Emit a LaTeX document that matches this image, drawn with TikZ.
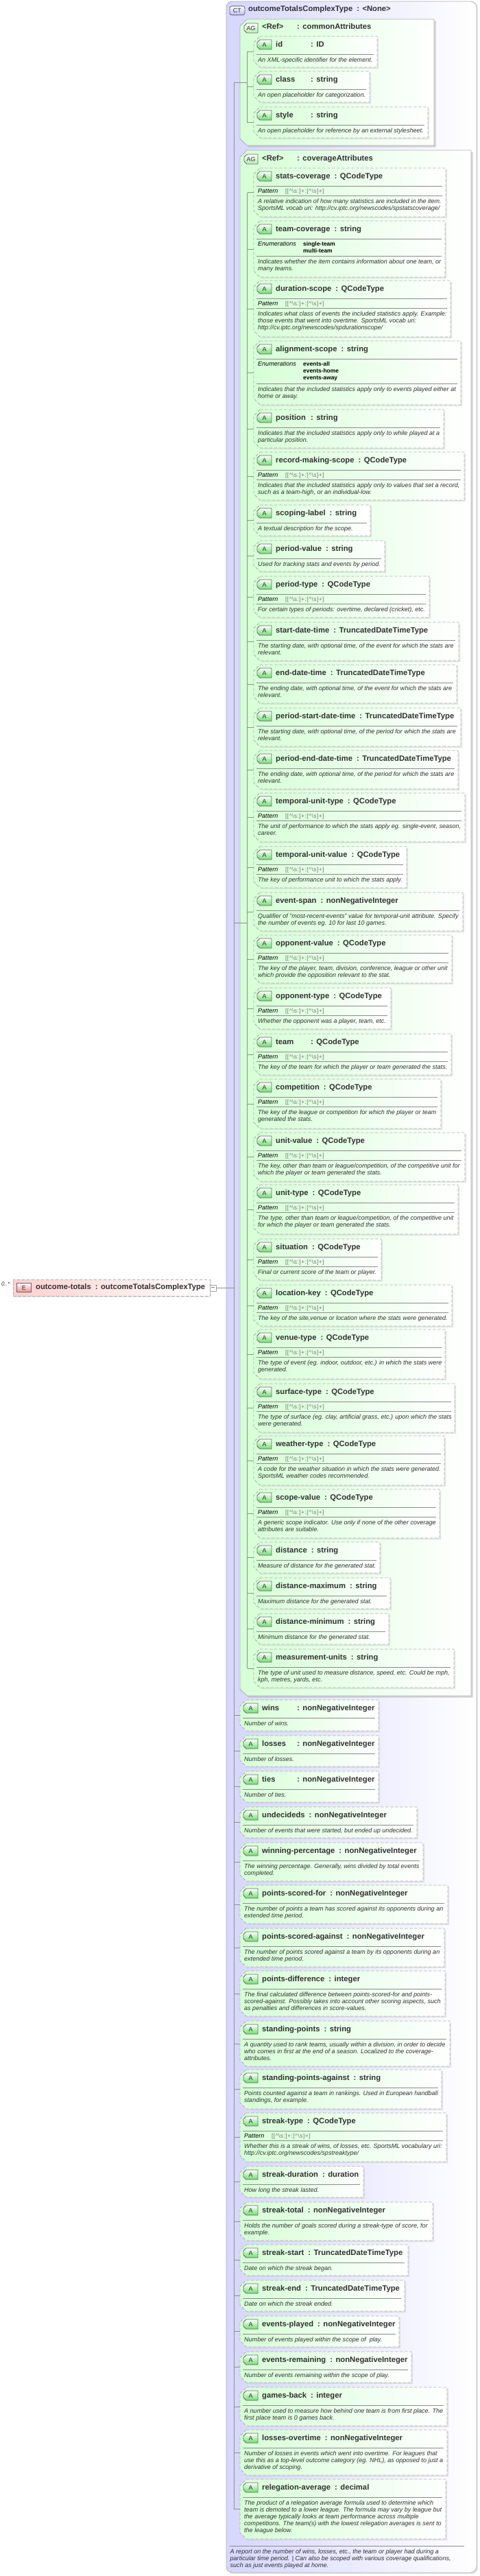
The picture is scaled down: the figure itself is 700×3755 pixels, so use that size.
\documentclass[tikz,border=0pt]{standalone}
\usepackage{fontspec}
\setmainfont{Liberation Sans}
\usetikzlibrary{shadows}
\definecolor{attrgreen}{HTML}{D6FFD6}
\definecolor{chipgreen}{HTML}{70DC70}
\definecolor{ctlav}{HTML}{D6D6FF}
\definecolor{chiplav}{HTML}{BCBCF4}
\definecolor{elemrose}{HTML}{FFCFCF}
\definecolor{chiprose}{HTML}{F49090}
\definecolor{edgegray}{HTML}{B0B0B0}
\definecolor{wiregray}{HTML}{909090}
\definecolor{textdark}{HTML}{303030}
\tikzset{
 namefont/.style={font=\fontsize{11.25}{13}\selectfont\bfseries, text=textdark, inner sep=0},
 descfont/.style={font=\fontsize{9.03}{10}\selectfont\itshape, text=textdark, inner sep=0, align=left, anchor=north west},
 tagfont/.style={font=\fontsize{9.03}{10}\selectfont\itshape, text=black, inner sep=0, anchor=base west},
 patfont/.style={font=\fontsize{8.5}{10}\selectfont\addfontfeature{LetterSpace=5}, text=black!55, inner sep=0, anchor=base west},
 enumfont/.style={font=\fontsize{8.4}{10}\selectfont\bfseries, text=black, inner sep=0, align=left, anchor=north west},
 holder/.style={inner sep=0, outer sep=0},
 attrshape/.style={draw=edgegray, line width=.9pt, dash pattern=on 4.5pt off 2.5pt, left color=attrgreen, right color=white, drop shadow={shadow xshift=2pt, shadow yshift=-2pt, fill=black!20}},
 groupshape/.style={draw=edgegray, line width=.8pt, left color=attrgreen, right color=white, drop shadow={shadow xshift=2.5pt, shadow yshift=-2.5pt, fill=black!32}},
 chipshape/.style={draw=black!60, line width=.8pt, top color=white, bottom color=chipgreen},
 chiptext/.style={font=\fontsize{9}{10}\selectfont, text=textdark, inner sep=0},
 divider/.style={draw=black!45, line width=.6pt},
 wire/.style={draw=wiregray, line width=.6pt},
}
\newsavebox{\namebox}
\newcommand{\namecol}[1]{\sbox{\namebox}{#1}\ifdim\wd\namebox<45pt\makebox[45pt][l]{#1}\else#1\fi\hspace{6pt}:\hspace{4.5pt}}
\newcommand{\qpattern}{[[\textasciicircum\textbackslash s:]+:[\textasciicircum\textbackslash s]+]}
% left, top, right, bottom, cut
\newcommand{\cutpath}[5]{(#1+#5,#2) -- (#3,#2) -- (#3,#4) -- (#1+#5,#4) -- (#1,#4-#5) -- (#1,#2+#5) -- cycle}
\def\boxleft{370}
% name, type, top, bottom, right
\newcommand{\attrhead}[5]{%
 \draw[attrshape] \cutpath{\boxleft}{#3}{#5}{#4}{9};
 \node[holder, minimum width={#5-\boxleft}, minimum height={#4-#3}] (#1) at ({(\boxleft+#5)/2},{(#3+#4)/2}) {};
 \draw[chipshape] \cutpath{\boxleft+5}{#3+5}{\boxleft+26}{#3+19}{4};
 \node[chiptext] (#1-chip) at (\boxleft+15.5,#3+12) {A};
 \node[namefont, anchor=base west] (#1-name) at (\boxleft+32,#3+15) {\namecol{#1}#2};
 \draw[divider] (\boxleft+4,#3+26) -- (#5-5,#3+26);
}
\newcommand{\attrplain}[6]{%
 \attrhead{#1}{#2}{#3}{#4}{#5}
 \node[descfont] (#1-desc) at (\boxleft+6,#3+30) {\rule{0pt}{7pt}#6};
}
\newcommand{\attrpat}[6]{%
 \attrhead{#1}{#2}{#3}{#4}{#5}
 \node[tagfont] (#1-tag) at (\boxleft+6,#3+36.5) {Pattern};
 \node[patfont] (#1-pat) at (\boxleft+46,#3+36.5) {\qpattern};
 \draw[divider] (\boxleft+4,#3+40) -- (#5-5,#3+40);
 \node[descfont] (#1-desc) at (\boxleft+6,#3+44) {\rule{0pt}{7pt}#6};
}
% last two: enumeration lines, offset of the second rule
\newcommand{\attrenum}[8]{%
 \attrhead{#1}{#2}{#3}{#4}{#5}
 \node[tagfont] (#1-tag) at (\boxleft+6,#3+36.5) {Enumerations};
 \node[enumfont] (#1-enum) at (\boxleft+72,#3+29.5) {\rule{0pt}{7pt}#7};
 \draw[divider] (\boxleft+4,#3+#8) -- (#5-5,#3+#8);
 \node[descfont] (#1-desc) at (\boxleft+6,#3+#8+4) {\rule{0pt}{7pt}#6};
}
\newcommand{\groupnode}[4]{%
 \draw[groupshape] \cutpath{350}{#2}{#4}{#3}{10};
 \node[holder, minimum width={#4-350}, minimum height={#3-#2}] (#1) at ({(350+#4)/2},{(#2+#3)/2}) {};
 \draw[chipshape, bottom color=chipgreen!50] \cutpath{356}{#2+6}{376}{#2+20}{4};
 \node[chiptext] (#1-chip) at (366,#2+13) {AG};
 \node[namefont, anchor=base west] (#1-name) at (382,#2+15) {\namecol{<Ref>}#1};
}
\begin{document}
\begin{tikzpicture}[x=1pt, y=-1pt]
\useasboundingbox (0,0) rectangle (700,3755);
\coordinate (ctbus) at (341,0);
\coordinate (groupbus) at (360.7,0);
% the complex type
\node[rounded corners=9pt, draw=edgegray, line width=.8pt, left color=ctlav, right color=white, inner sep=0, outer sep=0, minimum width=365pt, minimum height=3748pt, drop shadow={shadow xshift=2pt, shadow yshift=-2pt, fill=black!20}] (type-box) at (512.5,1876) {};
\node[rounded corners=3pt, draw=black!60, line width=.8pt, top color=white, bottom color=chiplav, font=\fontsize{9}{10}\selectfont, text=textdark, inner sep=0, minimum width=22pt, minimum height=13pt, anchor=north west] (type-chip) at (334.5,8.5) {CT};
\node[namefont, anchor=base west] (type-name) at (362,17) {outcomeTotalsComplexType\hspace{6pt}:\hspace{4.5pt}<None>};
% the element
\node[draw=edgegray, line width=.9pt, dash pattern=on 4.5pt off 2.5pt, left color=elemrose, right color=white, inner sep=0, outer sep=0, minimum width=287pt, minimum height=24pt, drop shadow={shadow xshift=2pt, shadow yshift=-2pt, fill=black!20}] (outcome-totals) at (162.5,1877) {};
\node[draw=black!60, line width=.8pt, top color=white, bottom color=chiprose, font=\fontsize{9}{10}\selectfont, text=textdark, inner sep=0, minimum width=21pt, minimum height=13pt, anchor=north west] (outcome-totals-chip) at (24,1870) {E};
\node[namefont, anchor=base west] (outcome-totals-name) at (52,1879) {outcome-totals\hspace{6pt}:\hspace{4.5pt}outcomeTotalsComplexType};
\node[font=\fontsize{8}{10}\selectfont\itshape, text=textdark, inner sep=0, anchor=base west] (occurs) at (2,1874) {0..*};
\node[draw=black!35, line width=.7pt, fill=white, inner sep=0, minimum width=9pt, minimum height=9pt, text=black!50] (expander) at (310.5,1877.5) {\rule[2.2pt]{5pt}{.6pt}};
\draw[wire] (expander.east) -- (ctbus |- expander.east);
% attribute groups
\groupnode{commonAttributes}{28}{212}{633}
\groupnode{coverageAttributes}{219}{2472}{687}
\def\boxleft{370}
\attrplain{id}{ID}{53}{98}{550}{An XML-specific identifier for the element.}
\attrplain{class}{string}{104}{149}{539}{An open placeholder for categorization.}
\attrplain{style}{string}{156}{201}{624}{An open placeholder for reference by an external stylesheet.}
\attrpat{stats-coverage}{QCodeType}{245}{316}{650}{A relative indication of how many statistics are included in the item.\\SportsML vocab uri: http://cv.iptc.org/newscodes/spstatscoverage/}
\attrenum{team-coverage}{string}{322}{404}{649}{Indicates whether the item contains information about one team, or\\many teams.}{single-team\\multi-team}{51}
\attrpat{duration-scope}{QCodeType}{409}{491}{657}{Indicates what class of events the included statistics apply. Example:\\those events that went into overtime. SportsML vocab uri:\\http://cv.iptc.org/newscodes/spdurationscope/}
\attrenum{alignment-scope}{string}{497}{590}{672}{Indicates that the included statistics apply only to events played either at\\home or away.}{events-all\\events-home\\events-away}{62}
\attrplain{position}{string}{597}{653}{647}{Indicates that the included statistics apply only to while played at a\\particular position.}
\attrpat{record-making-scope}{QCodeType}{659}{729}{677}{Indicates that the included statistics apply only to values that set a record,\\such as a team-high, or an individual-low.}
\attrplain{scoping-label}{string}{736}{781}{540}{A textual description for the scope.}
\attrplain{period-value}{string}{788}{833}{561}{Used for tracking stats and events by period.}
\attrpat{period-type}{QCodeType}{840}{900}{626}{For certain types of periods: overtime, declared (cricket), etc.}
\attrplain{start-date-time}{TruncatedDateTimeType}{907}{963}{669}{The starting date, with optional time, of the event for which the stats are\\relevant.}
\attrplain{end-date-time}{TruncatedDateTimeType}{969}{1025}{666}{The ending date, with optional time, of the event for which the stats are\\relevant.}
\attrplain{period-start-date-time}{TruncatedDateTimeType}{1032}{1088}{672}{The starting date, with optional time, of the period for which the stats are\\relevant.}
\attrplain{period-end-date-time}{TruncatedDateTimeType}{1094}{1150}{668}{The ending date, with optional time, of the period for which the stats are\\relevant.}
\attrpat{temporal-unit-type}{QCodeType}{1156}{1227}{678}{The unit of performance to which the stats apply eg. single-event, season,\\career.}
\attrpat{temporal-unit-value}{QCodeType}{1234}{1294}{593}{The key of performance unit to which the stats apply.}
\attrplain{event-span}{nonNegativeInteger}{1301}{1357}{675}{Qualifier of "most-recent-events" value for temporal-unit attribute. Specify\\the number of events eg. 10 for last 10 games.}
\attrpat{opponent-value}{QCodeType}{1363}{1433}{659}{The key of the player, team, division, conference, league or other unit\\which provide the opposition relevant to the stat.}
\attrpat{opponent-type}{QCodeType}{1440}{1500}{570}{Whether the opponent was a player, team, etc.}
\attrpat{team}{QCodeType}{1507}{1567}{658}{The key of the team for which the player or team generated the stats.}
\attrpat{competition}{QCodeType}{1573}{1645}{643}{The key of the league or competition for which the player or team\\generated the stats.}
\attrpat{unit-value}{QCodeType}{1651}{1722}{678}{The key, other than team or league/competition, of the competitive unit for\\which the player or team generated the stats.}
\attrpat{unit-type}{QCodeType}{1727}{1799}{668}{The type, other than team or league/competition, of the competitive unit\\for which the player or team generated the stats.}
\attrpat{situation}{QCodeType}{1806}{1866}{556}{Final or current score of the team or player.}
\attrpat{location-key}{QCodeType}{1873}{1933}{659}{The key of the site,venue or location where the stats were generated.}
\attrpat{venue-type}{QCodeType}{1938}{2010}{649}{The type of event (eg. indoor, outdoor, etc.) in which the stats were\\generated.}
\attrpat{surface-type}{QCodeType}{2017}{2088}{663}{The type of surface (eg. clay, artificial grass, etc.) upon which the stats\\were generated.}
\attrpat{weather-type}{QCodeType}{2093}{2165}{648}{A code for the weather situation in which the stats were generated.\\SportsML weather codes recommended.}
\attrpat{scope-value}{QCodeType}{2171}{2242}{641}{A generic scope indicator. Use only if none of the other coverage\\attributes are suitable.}
\attrplain{distance}{string}{2248}{2293}{554}{Measure of distance for the generated stat.}
\attrplain{distance-maximum}{string}{2300}{2345}{569}{Maximum distance for the generated stat.}
\attrplain{distance-minimum}{string}{2352}{2397}{567}{Minimum distance for the generated stat.}
\attrplain{measurement-units}{string}{2404}{2460}{662}{The type of unit used to measure distance, speed, etc. Could be mph,\\kph, metres, yards, etc.}
% attributes of the type itself
\def\boxleft{350}
\attrplain{wins}{nonNegativeInteger}{2478}{2523}{552}{Number of wins.}
\attrplain{losses}{nonNegativeInteger}{2530}{2575}{552}{Number of losses.}
\attrplain{ties}{nonNegativeInteger}{2582}{2627}{552}{Number of ties.}
\attrplain{undecideds}{nonNegativeInteger}{2634}{2679}{608}{Number of events that were started, but ended up undecided.}
\attrplain{winning-percentage}{nonNegativeInteger}{2686}{2742}{617}{The winning percentage. Generally, wins divided by total events\\completed.}
\attrplain{points-scored-for}{nonNegativeInteger}{2748}{2804}{653}{The number of points a team has scored against its opponents during an\\extended time period.}
\attrplain{points-scored-against}{nonNegativeInteger}{2811}{2867}{648}{The number of points scored against a team by its opponents during an\\extended time period.}
\attrplain{points-difference}{integer}{2873}{2939}{649}{The final calculated difference between points-scored-for and points-\\scored-against. Possibly takes into account other scoring aspects, such\\as penalties and differences in score-values.}
\attrplain{standing-points}{string}{2946}{3012}{656}{A quantity used to rank teams, usually within a division, in order to decide\\who comes in first at the end of a season. Localized to the coverage-\\attributes.}
\attrplain{standing-points-against}{string}{3017}{3074}{644}{Points counted against a team in rankings. Used in European handball\\standings, for example.}
\attrpat{streak-type}{QCodeType}{3080}{3151}{651}{Whether this is a streak of wins, of losses, etc. SportsML vocabulary uri:\\http://cv.iptc.org/newscodes/spstreaktype/}
\attrplain{streak-duration}{duration}{3158}{3203}{530}{How long the streak lasted.}
\attrplain{streak-total}{nonNegativeInteger}{3210}{3266}{631}{Holds the number of goals scored during a streak-type of score, for\\example.}
\attrplain{streak-start}{TruncatedDateTimeType}{3272}{3317}{595}{Date on which the streak began.}
\attrplain{streak-end}{TruncatedDateTimeType}{3324}{3369}{590}{Date on which the streak ended.}
\attrplain{events-played}{nonNegativeInteger}{3376}{3421}{582}{Number of events played within the scope of~ play.}
\attrplain{events-remaining}{nonNegativeInteger}{3428}{3473}{600}{Number of events remaining within the scope of play.}
\attrplain{games-back}{integer}{3480}{3536}{652}{A number used to measure how behind one team is from first place. The\\first place team is 0 games back.}
\attrplain{losses-overtime}{nonNegativeInteger}{3542}{3608}{652}{Number of losses in events which went into overtime. For leagues that\\use this as a top-level outcome category (eg. NHL), as opposed to just a\\derivative of scoping.}
\attrplain{relegation-average}{decimal}{3614}{3701}{650}{The product of a relegation average formula used to determine which\\team is demoted to a lower league. The formula may vary by league but\\the average typically looks at team performance across multiple\\competitions. The team(s) with the lowest relegation averages is sent to\\the league below.}
% type description
\draw[divider] (335,3711) -- (677,3711);
\node[descfont] (type-desc) at (335.5,3715) {\rule{0pt}{7pt}A report on the number of wins, losses, etc., the team or player had during a\\particular time period. | Can also be scoped with various coverage qualifications,\\such as just events played at home.};
% connectors
\draw[wire] (ctbus |- commonAttributes.west) -- (ctbus |- relegation-average.west);
\foreach \n in {commonAttributes, coverageAttributes, wins, losses, ties, undecideds, winning-percentage, points-scored-for, points-scored-against, points-difference, standing-points, standing-points-against, streak-type, streak-duration, streak-total, streak-start, streak-end, events-played, events-remaining, games-back, losses-overtime, relegation-average} {
 \draw[wire] (ctbus |- \n.west) -- (\n.west);
}
\draw[wire] (groupbus |- id.west) -- (groupbus |- style.west);
\draw[wire] (commonAttributes.west) -- (groupbus |- commonAttributes.west);
\foreach \n in {id, class, style} {
 \draw[wire] (groupbus |- \n.west) -- (\n.west);
}
\draw[wire] (groupbus |- stats-coverage.west) -- (groupbus |- measurement-units.west);
\draw[wire] (coverageAttributes.west) -- (groupbus |- coverageAttributes.west);
\foreach \n in {stats-coverage, team-coverage, duration-scope, alignment-scope, position, record-making-scope, scoping-label, period-value, period-type, start-date-time, end-date-time, period-start-date-time, period-end-date-time, temporal-unit-type, temporal-unit-value, event-span, opponent-value, opponent-type, team, competition, unit-value, unit-type, situation, location-key, venue-type, surface-type, weather-type, scope-value, distance, distance-maximum, distance-minimum, measurement-units} {
 \draw[wire] (groupbus |- \n.west) -- (\n.west);
}
\end{tikzpicture}
\end{document}
